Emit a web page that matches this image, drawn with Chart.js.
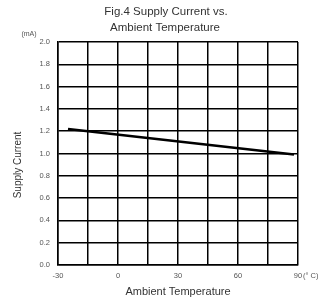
<!DOCTYPE html>
<html>
<head>
<meta charset="utf-8">
<script src="https://cdn.jsdelivr.net/npm/chart.js@4"></script>
<style>
  html, body { margin: 0; padding: 0; background: #fff; }
  #wrap { width: 327px; height: 303px; }
</style>
</head>
<body>
<div id="wrap"><canvas id="graphique" width="327" height="303"></canvas></div>
<script>
// data
var temperatures = [-25, 88];
var supplyCurrent = [1.22, 0.99];
var xTicks = [-30, 0, 30, 60, 90];
var yMin = 0, yMax = 2.0, yStep = 0.2;

var titleLines = ['Fig.4 Supply Current vs.', 'Ambient Temperature'];
var xTitle = 'Ambient Temperature';
var xUnit = '(° C)';
var yTitle = 'Supply Current';
var yUnit = '(mA)';

var points = temperatures.map(function(t, i) { return { x: t, y: supplyCurrent[i] }; });

// titles and units drawn around the plot
var textPlugin = {
    id: 'textes',
    afterDraw: function(chart) {
        var c = chart.ctx;
        var area = chart.chartArea;
        c.save();
        c.fillStyle = '#333';
        c.textAlign = 'center';
        c.textBaseline = 'middle';
        c.font = '11.5px "Liberation Sans", Arial, sans-serif';
        c.fillText(titleLines[0], 166, 12);
        c.fillText(titleLines[1], 165, 28);
        c.font = '11px "Liberation Sans", Arial, sans-serif';
        c.fillText(xTitle, (area.left + area.right) / 2, 292);
        c.font = '7px "Liberation Sans", Arial, sans-serif';
        c.fillStyle = '#555';
        c.fillText(yUnit, 29, 34);
        c.font = '7.5px "Liberation Sans", Arial, sans-serif';
        c.textAlign = 'left';
        c.fillText(xUnit, area.right + 5, area.bottom + 10.5);
        c.textAlign = 'center';
        c.fillStyle = '#333';
        c.font = '10px "Liberation Sans", Arial, sans-serif';
        c.translate(18, 165);
        c.rotate(-Math.PI / 2);
        c.fillText(yTitle, 0, 0);
        c.restore();
    }
};

var ctx = document.getElementById('graphique').getContext('2d');
var graphique = new Chart(ctx, {
    type: 'scatter',
    data: {
        datasets: [{
            data: points,
            showLine: true,
            borderColor: '#000',
            borderWidth: 2.5,
            pointRadius: 0,
            fill: false
        }]
    },
    options: {
        responsive: false,
        animation: false,
        layout: { padding: { top: 42, right: 29, left: 0, bottom: 0 } },
        plugins: {
            legend: { display: false },
            tooltip: { enabled: false }
        },
        scales: {
            x: {
                type: 'linear',
                min: -30,
                max: 90,
                afterBuildTicks: function(axis) {
                    var t = [];
                    for (var v = -30; v <= 90; v += 15) t.push({ value: v });
                    axis.ticks = t;
                },
                afterFit: function(axis) { axis.height = 38; },
                grid: { color: '#000', lineWidth: 1.5, drawTicks: false },
                border: { color: '#000', width: 1.5 },
                ticks: {
                    autoSkip: false,
                    maxRotation: 0,
                    padding: 6,
                    color: '#555',
                    font: { size: 7.5, family: '"Liberation Sans", Arial, sans-serif' },
                    callback: function(v) {
                        return xTicks.indexOf(v) < 0 ? '' : String(v);
                    }
                }
            },
            y: {
                min: yMin,
                max: yMax,
                afterFit: function(axis) { axis.width = 58; },
                grid: { color: '#000', lineWidth: 1.5, drawTicks: false },
                border: { color: '#000', width: 1.5 },
                ticks: {
                    stepSize: yStep,
                    padding: 8,
                    color: '#555',
                    font: { size: 7.5, family: '"Liberation Sans", Arial, sans-serif' },
                    callback: function(v) { return v.toFixed(1); }
                }
            }
        }
    },
    plugins: [textPlugin]
});
</script>
</body>
</html>
